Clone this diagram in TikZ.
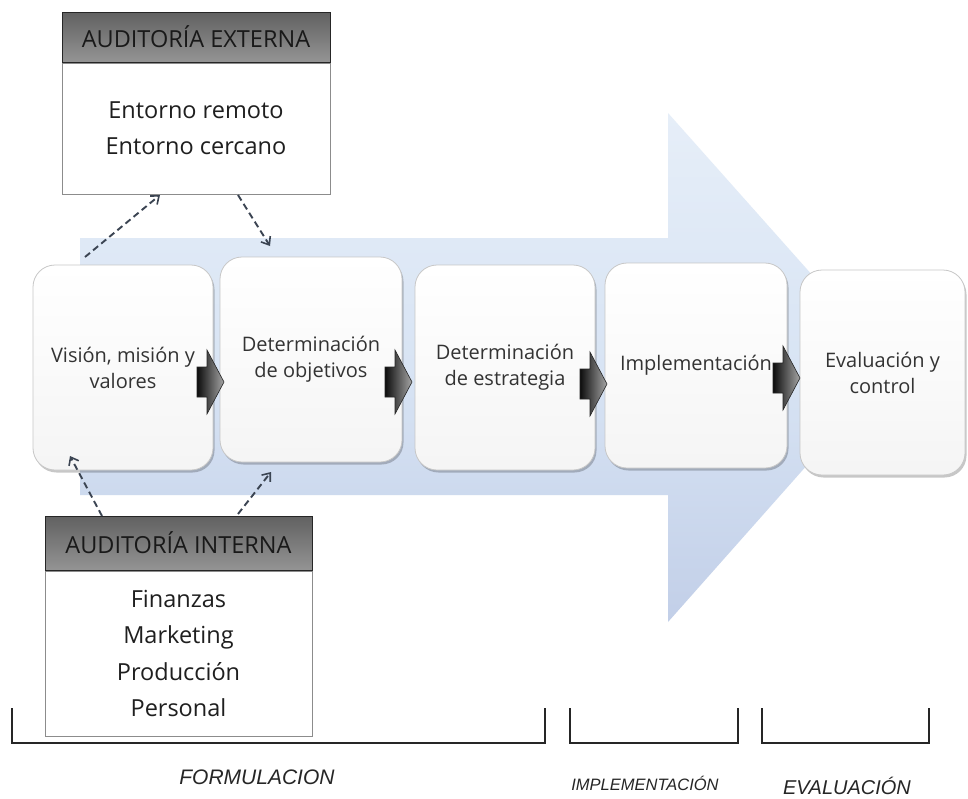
\documentclass[tikz,border=0pt]{standalone}
\usepackage{fontspec}
\setmainfont{Open Sans}
\newfontfamily\labfont{Liberation Sans}
\usetikzlibrary{shadows,arrows.meta,calc}
\definecolor{txt}{HTML}{333333}
\definecolor{dashc}{HTML}{3B4452}
\definecolor{blueA}{HTML}{E6EEF8}
\definecolor{blueB}{HTML}{D8E4F4}
\definecolor{blueC}{HTML}{C2CFE8}
\newcommand\garrow[2]{%
  \path[left color=black!95, right color=black!35, draw=black!85, line width=0.6pt]
    (#1,{#2-15}) -- ({#1+10},{#2-15}) -- ({#1+10},{#2-32}) -- ({#1+27},#2)
    -- ({#1+10},{#2+32}) -- ({#1+10},{#2+15}) -- (#1,{#2+15}) -- cycle;}
\begin{document}
\begin{tikzpicture}[x=1pt,y=-1pt,
  stage/.style={draw=black!22, line width=0.8pt, rounded corners=22pt,
    top color=white, bottom color=black!4, minimum height=205pt,
    align=center, font=\fontsize{20}{26}\selectfont, text=txt,
    drop shadow={shadow xshift=1.5pt,shadow yshift=-2.5pt,opacity=0.22,fill=black}},
  hdr/.style={draw=black!85, line width=1pt, top color=black!62, bottom color=black!42,
    font=\fontsize{23.5}{28}\selectfont, text=black!90, inner sep=0pt},
  bodybox/.style={draw=black!45, line width=0.8pt, fill=white, align=center,
    font=\fontsize{23.5}{36.5}\selectfont, text=black!88, inner sep=0pt},
  dasharrow/.style={draw=dashc, line width=1.9pt, dash pattern=on 6.5pt off 4pt,
    -{Straight Barb[length=7pt,width=11pt,line width=1.6pt]}},
  bracket/.style={draw=black!85, line width=1.3pt},
  lab/.style={font=\labfont\itshape\fontsize{20}{24}\selectfont, text=black!85}
]
\useasboundingbox (0,0) rectangle (968,798);
\fill[white] (0,0) rectangle (968,798);

% big blue process arrow
\path[top color=blueA, bottom color=blueC, middle color=blueB]
  (80,238) -- (668,238) -- (668,113) -- (894,367) -- (668,622) -- (668,495) -- (80,495) -- cycle;

% stage boxes
\node[stage, minimum width=180pt] (b1) at (123,367.5) {Visión, misión y\\valores};
\node[stage, minimum width=182pt] (b2) at (311,359.5) {Determinación\\de objetivos};
\node[stage, minimum width=180pt] (b3) at (505,367.5) {Determinación\\de estrategia};
\node[stage, minimum width=182pt] (b4) at (696,365.5) {Implementación};
\node[stage, minimum width=165pt] (b5) at (882.5,372.5) {Evaluación y\\control};

% gray block arrows between stages
\garrow{197}{382}
\garrow{385}{382}
\garrow{580}{384}
\garrow{773}{378}

% external audit
\node[hdr, minimum width=268pt, minimum height=50pt] (exth) at (196,37) {AUDITORÍA EXTERNA};
\node[bodybox, minimum width=268pt, minimum height=131pt, anchor=north] (extb) at (exth.south) {Entorno remoto\\Entorno cercano};

% internal audit
\node[hdr, minimum width=267pt, minimum height=54pt] (inth) at (178.5,543) {AUDITORÍA INTERNA};
\node[bodybox, minimum width=267pt, minimum height=165pt, anchor=north] (intb) at (inth.south) {Finanzas\\Marketing\\Producción\\Personal};

% dashed links
\coordinate (e1) at (85,257);
\coordinate (e2) at (160,195);
\coordinate (e3) at (238,195);
\coordinate (e4) at (270,246);
\coordinate (i1) at (102,516);
\coordinate (i2) at (70,456);
\coordinate (i3) at (238,514);
\coordinate (i4) at (271,472);
\draw[dasharrow] (e1) -- (e2);
\draw[dasharrow] (e3) -- (e4);
\draw[dasharrow] (i1) -- (i2);
\draw[dasharrow] (i3) -- (i4);

% phase brackets
\draw[bracket] (12,708) |- (545,743) -- (545,708);
\draw[bracket] (570,708) |- (738,743) -- (738,708);
\draw[bracket] (762,708) |- (929,743) -- (929,708);

\node[lab, font=\labfont\itshape\fontsize{21}{24}\selectfont] (lf) at (257,777) {FORMULACION};
\node[lab, font=\labfont\itshape\fontsize{16.5}{20}\selectfont] (li) at (645,783) {IMPLEMENTACIÓN};
\node[lab] (le) at (847,786) {EVALUACIÓN};
\end{tikzpicture}
\end{document}
